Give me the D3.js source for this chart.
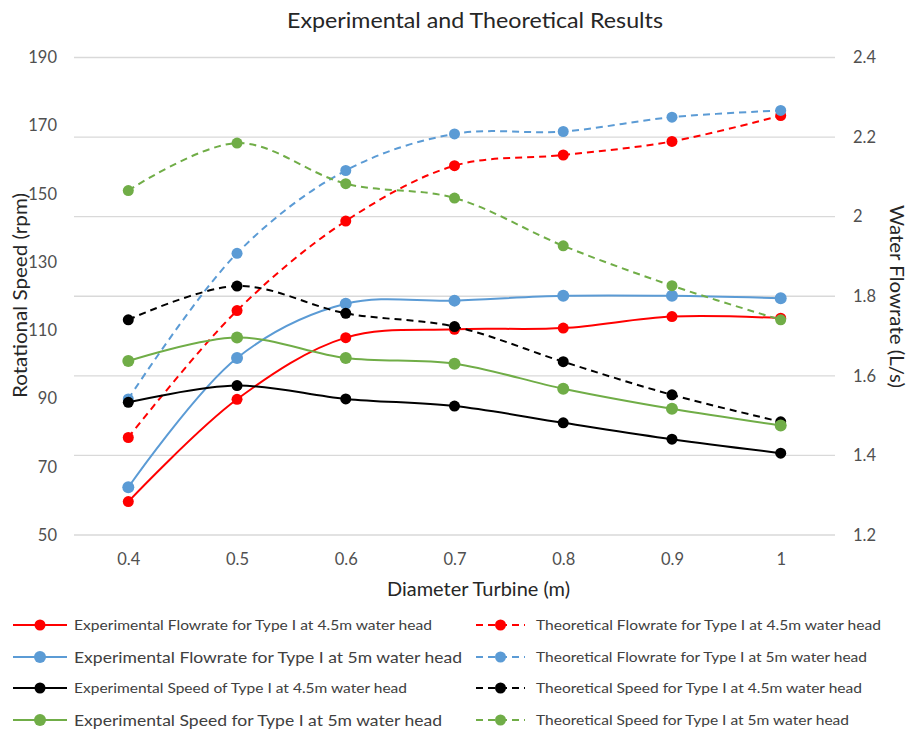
<!DOCTYPE html>
<meta charset="utf-8">
<style>
  body { margin: 0; background: #fff; }
  text { font-family: Lato, "Open Sans", sans-serif; }
</style>
<svg width="909" height="733"></svg>
<script src="https://cdn.jsdelivr.net/npm/d3@7"></script>
<script>
// diameters on x axis
var diameters = [0.4, 0.5, 0.6, 0.7, 0.8, 0.9, 1]
var speedTicks = [50, 70, 90, 110, 130, 150, 170, 190]
var flowTicks = [1.2, 1.4, 1.6, 1.8, 2, 2.2, 2.4]

// flowrate series (L/s, right axis)
var expFlow45 = [1.284, 1.541, 1.696, 1.717, 1.720, 1.749, 1.745]
var theoFlow45 = [1.445, 1.764, 1.989, 2.128, 2.155, 2.189, 2.254]
var expFlow5 = [1.320, 1.645, 1.781, 1.789, 1.801, 1.801, 1.795]
var theoFlow5 = [1.542, 1.908, 2.116, 2.208, 2.214, 2.250, 2.267]

// speed series (rpm, left axis)
var expSpeed45 = [88.9, 93.8, 89.9, 87.8, 82.9, 78.1, 74.0]
var theoSpeed45 = [113.1, 123.0, 115.0, 111.1, 100.8, 91.1, 83.2]
var expSpeed5 = [101.0, 107.9, 101.9, 100.2, 92.9, 87.0, 82.1]
var theoSpeed5 = [151.0, 164.9, 153.0, 148.8, 134.8, 123.1, 113.1]

var series = [
  { name: "Experimental Flowrate for Type I at 4.5m water head", values: expFlow45, axis: "flow", color: "#ff0000", dash: false, fs: 14, r: 5.5 },
  { name: "Theoretical Flowrate for Type I at 4.5m water head", values: theoFlow45, axis: "flow", color: "#ff0000", dash: true, fs: 14, r: 5.5 },
  { name: "Experimental Flowrate for Type I at 5m water head", values: expFlow5, axis: "flow", color: "#5b9bd5", dash: false, fs: 16, r: 6 },
  { name: "Theoretical Flowrate for Type I at 5m water head", values: theoFlow5, axis: "flow", color: "#5b9bd5", dash: true, fs: 14, r: 5.5 },
  { name: "Experimental Speed of Type I at 4.5m water head", values: expSpeed45, axis: "speed", color: "#000000", dash: false, fs: 14, r: 5.5 },
  { name: "Theoretical Speed for Type I at 4.5m water head", values: theoSpeed45, axis: "speed", color: "#000000", dash: true, fs: 14, r: 5.5 },
  { name: "Experimental Speed for Type I at 5m water head", values: expSpeed5, axis: "speed", color: "#70ad47", dash: false, fs: 16, r: 6 },
  { name: "Theoretical Speed for Type I at 5m water head", values: theoSpeed5, axis: "speed", color: "#70ad47", dash: true, fs: 14, r: 5.5 }
]

// legend text end positions (to fit the original widths)
var legendEnds = [432, 881, 462, 867, 407, 862, 442, 849]

const svg = d3.select('svg')
const plotLeft = 74, plotRight = 835, plotTop = 57.5, plotBottom = 535

const x = d3.scalePoint().domain(diameters).range([128.3, 780.7])
const ySpeed = d3.scaleLinear().domain([50, 190]).range([plotBottom, plotTop])
const yFlow = d3.scaleLinear().domain([1.2, 2.4]).range([plotBottom, plotTop])

// gridlines follow the flowrate axis
svg.append('g')
  .selectAll('line')
  .data(flowTicks)
  .enter().append('line')
  .attr('x1', plotLeft).attr('x2', plotRight)
  .attr('y1', d => yFlow(d)).attr('y2', d => yFlow(d))
  .attr('stroke', '#d9d9d9').attr('stroke-width', 1.3)

function styleTicks(g) {
  g.select('.domain').remove()
  g.selectAll('text').attr('font-size', 16.5).attr('fill', '#505050')
    .style('font-family', 'Lato, sans-serif')
}

// left axis
svg.append('g')
  .attr('transform', 'translate(' + plotLeft + ',0)')
  .call(d3.axisLeft(ySpeed).tickValues(speedTicks).tickSize(0).tickPadding(17))
  .call(styleTicks)

// right axis
svg.append('g')
  .attr('transform', 'translate(' + plotRight + ',0)')
  .call(d3.axisRight(yFlow).tickValues(flowTicks).tickSize(0).tickPadding(18)
    .tickFormat(d => String(+d.toFixed(1))))
  .call(styleTicks)

// bottom axis
svg.append('g')
  .attr('transform', 'translate(0,' + plotBottom + ')')
  .call(d3.axisBottom(x).tickSize(0).tickPadding(18).tickFormat(d => String(d)))
  .call(styleTicks)

// titles
svg.append('text').text('Experimental and Theoretical Results')
  .attr('x', 287).attr('y', 28)
  .attr('font-size', 21).attr('fill', '#262626')
  .attr('textLength', 376).attr('lengthAdjust', 'spacingAndGlyphs')
svg.append('text').text('Diameter Turbine (m)')
  .attr('x', 387).attr('y', 596)
  .attr('font-size', 18.5).attr('fill', '#262626')
  .attr('textLength', 183).attr('lengthAdjust', 'spacingAndGlyphs')
svg.append('text').text('Rotational Speed (rpm)')
  .attr('transform', 'translate(27,398) rotate(-90)')
  .attr('font-size', 18.5).attr('fill', '#262626')
  .attr('textLength', 205).attr('lengthAdjust', 'spacingAndGlyphs')
svg.append('text').text('Water Flowrate (L/s)')
  .attr('transform', 'translate(890,205) rotate(90)')
  .attr('font-size', 18.5).attr('fill', '#262626')
  .attr('textLength', 183).attr('lengthAdjust', 'spacingAndGlyphs')

// lines and markers
const plot = svg.append('g')
series.forEach(s => {
  const ys = s.axis === 'flow' ? yFlow : ySpeed
  const line = d3.line()
    .x((d, i) => x(diameters[i]))
    .y(d => ys(d))
    .curve(d3.curveCatmullRom.alpha(0.5))
  plot.append('path')
    .attr('d', line(s.values))
    .attr('fill', 'none')
    .attr('stroke', s.color)
    .attr('stroke-width', 2)
    .attr('stroke-dasharray', s.dash ? '7,5' : null)
  plot.append('g')
    .selectAll('circle')
    .data(s.values)
    .enter().append('circle')
    .attr('cx', (d, i) => x(diameters[i]))
    .attr('cy', d => ys(d))
    .attr('r', s.r)
    .attr('fill', s.color)
})

// legend
const legend = svg.append('g')
const rowsY = [625, 657, 688, 720]
series.forEach((s, i) => {
  const col = i % 2, row = Math.floor(i / 2)
  const x0 = col === 0 ? 13 : 476
  const x1 = col === 0 ? 67 : 525
  const tx = col === 0 ? 74 : 536
  const cy = rowsY[row]
  const g = legend.append('g')
  g.append('line')
    .attr('x1', x0).attr('x2', x1).attr('y1', cy).attr('y2', cy)
    .attr('stroke', s.color).attr('stroke-width', 2)
    .attr('stroke-dasharray', s.dash ? '7,5' : null)
  g.append('circle')
    .attr('cx', (x0 + x1) / 2).attr('cy', cy).attr('r', s.r)
    .attr('fill', s.color)
  g.append('text').text(s.name)
    .attr('x', tx).attr('y', cy + s.fs * 0.36)
    .attr('font-size', s.fs).attr('fill', '#404040')
    .attr('textLength', legendEnds[i] - tx)
    .attr('lengthAdjust', 'spacingAndGlyphs')
})
</script>
